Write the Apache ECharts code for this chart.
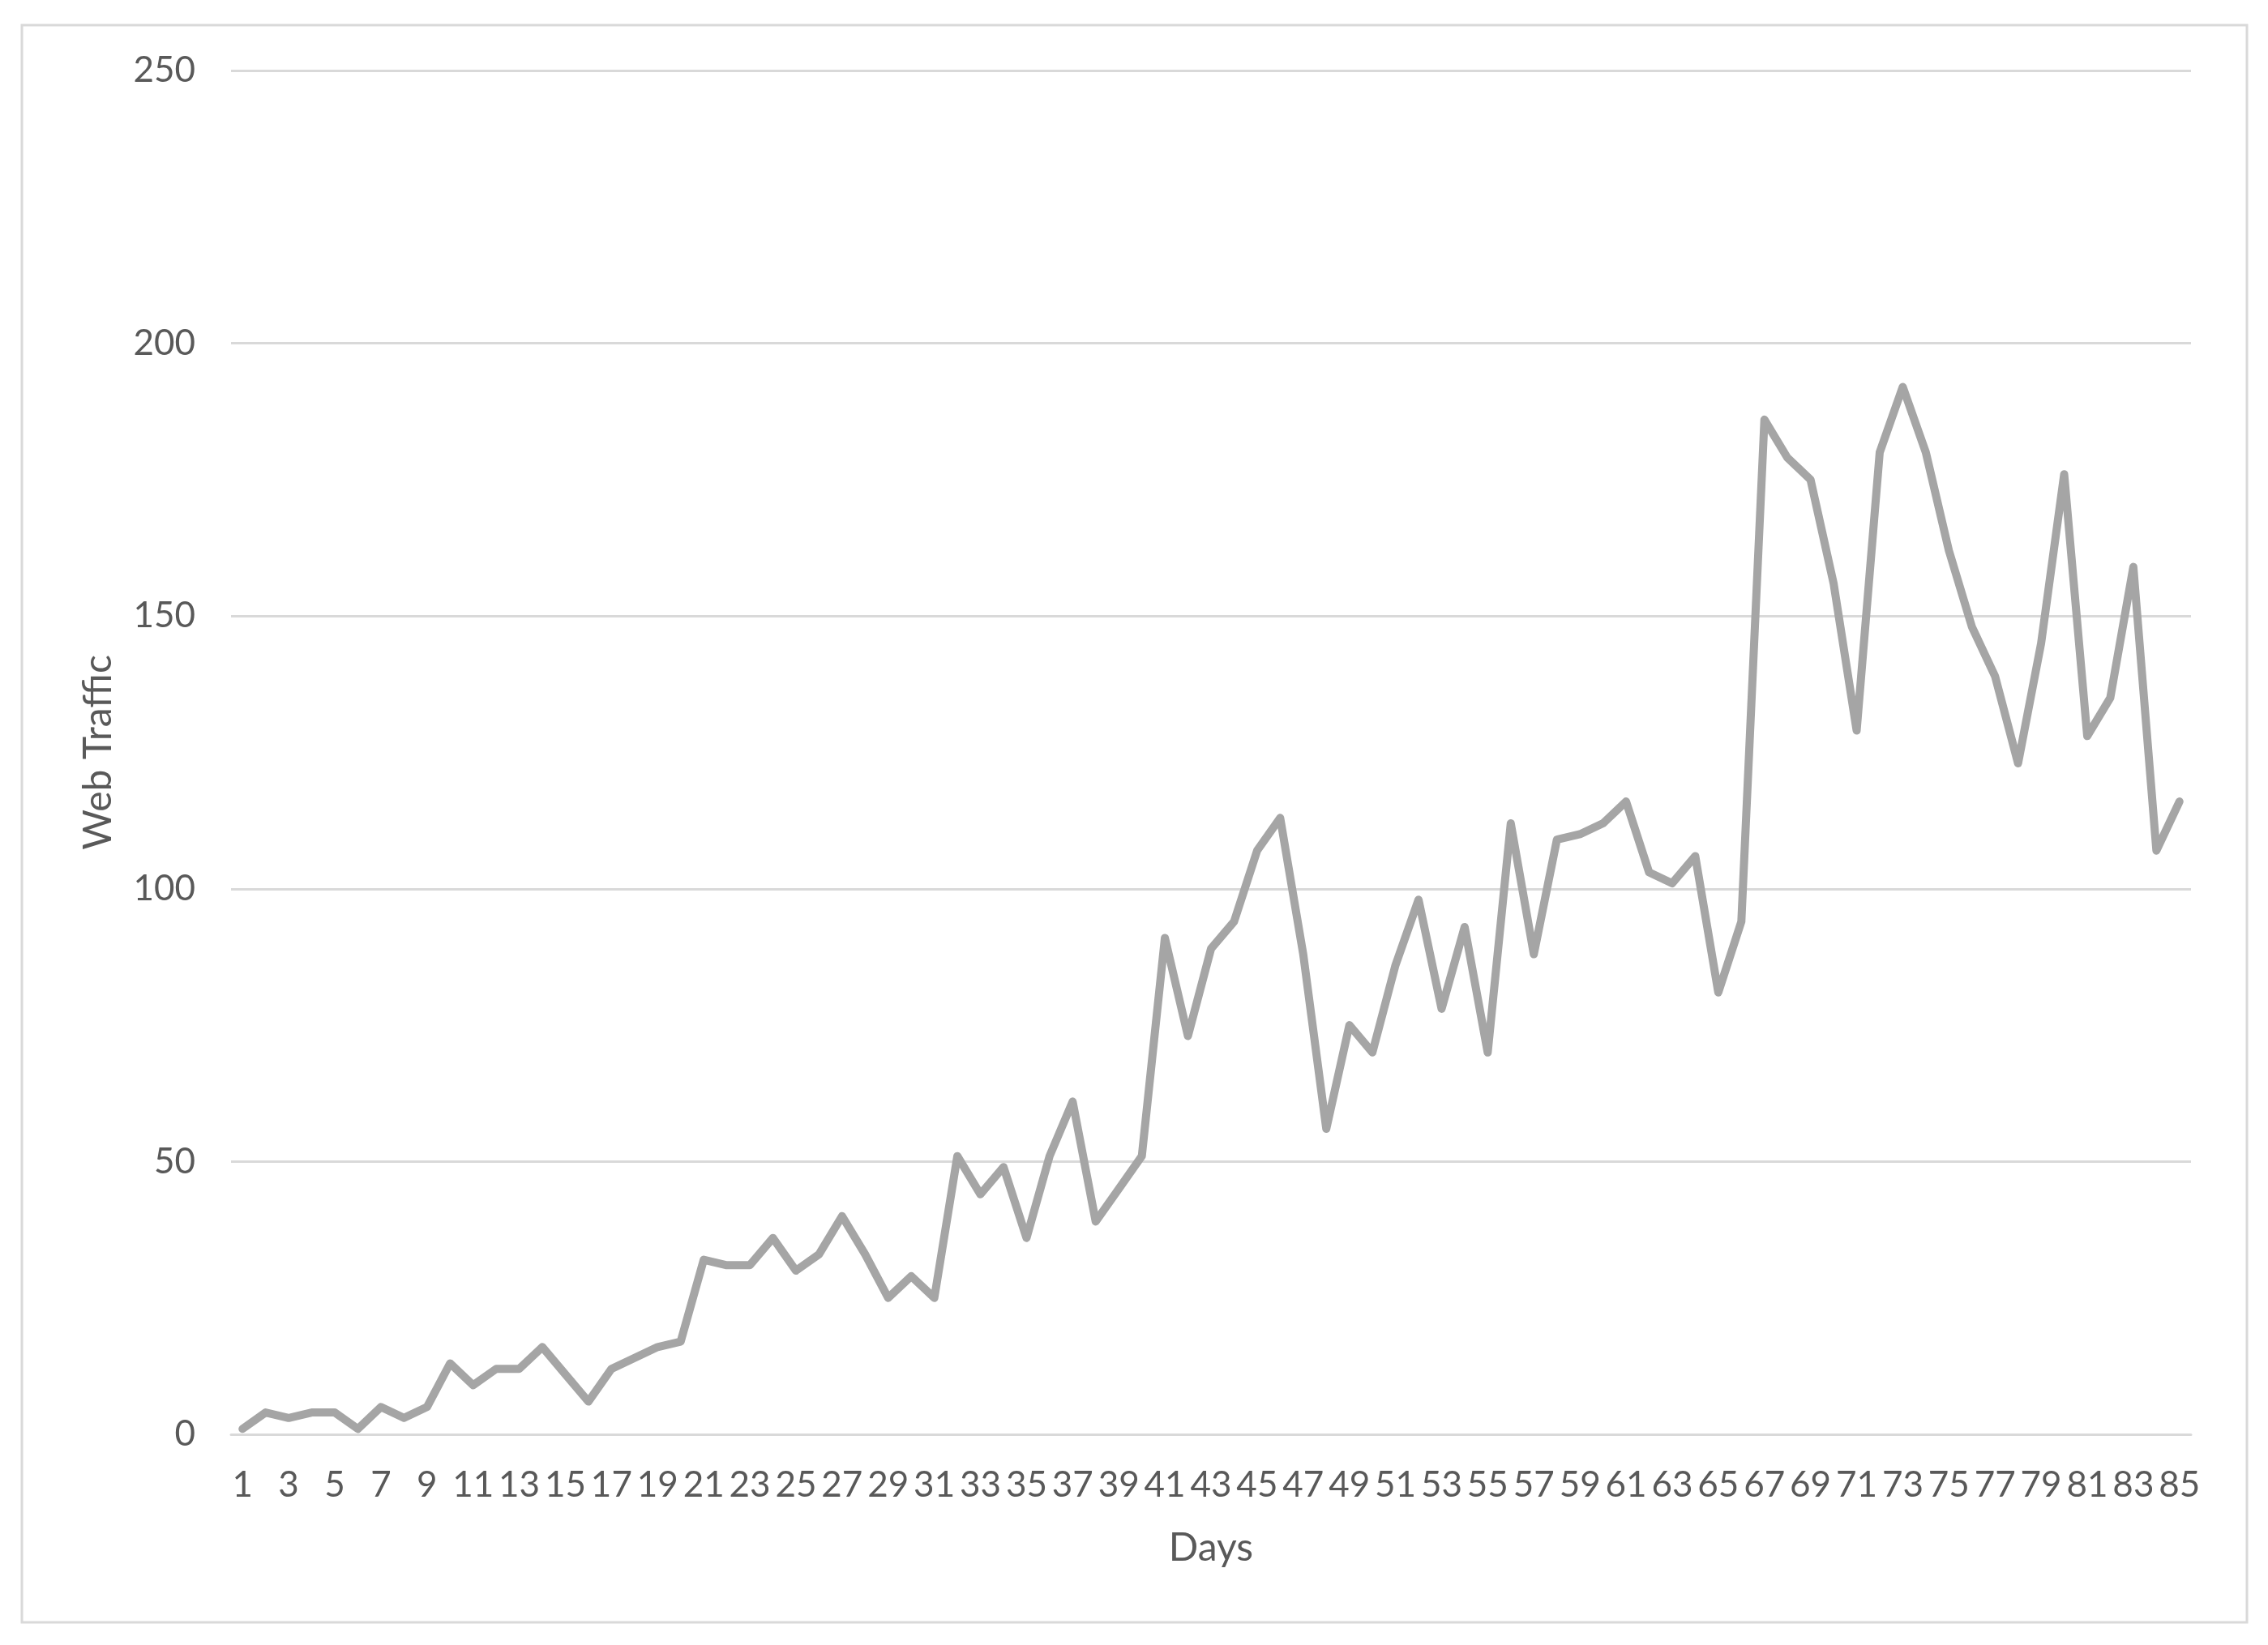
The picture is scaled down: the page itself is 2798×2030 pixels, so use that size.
<!DOCTYPE html>
<html>
<head>
<meta charset="utf-8">
<title>Web Traffic</title>
<script src="https://cdn.jsdelivr.net/npm/echarts@6/dist/echarts.min.js"></script>
<style>
  html, body { margin: 0; padding: 0; background: #ffffff; }
  #chart { width: 2798px; height: 2030px; }
</style>
</head>
<body>
<div id="chart"></div>
<script>
// days on the x axis
var days = [
  '1', '2', '3', '4', '5', '6', '7', '8', '9', '10',
  '11', '12', '13', '14', '15', '16', '17', '18', '19', '20',
  '21', '22', '23', '24', '25', '26', '27', '28', '29', '30',
  '31', '32', '33', '34', '35', '36', '37', '38', '39', '40',
  '41', '42', '43', '44', '45', '46', '47', '48', '49', '50',
  '51', '52', '53', '54', '55', '56', '57', '58', '59', '60',
  '61', '62', '63', '64', '65', '66', '67', '68', '69', '70',
  '71', '72', '73', '74', '75', '76', '77', '78', '79', '80',
  '81', '82', '83', '84', '85'
]

// web traffic per day
var traffic = [
  1, 4, 3, 4, 4, 1, 5, 3, 5, 13,
  9, 12, 12, 16, 11, 6, 12, 14, 16, 17,
  32, 31, 31, 36, 30, 33, 40, 33, 25, 29,
  25, 51, 44, 49, 36, 51, 61, 39, 45, 51,
  91, 73, 89, 94, 107, 113, 88, 56, 75, 70,
  86, 98, 78, 93, 70, 112, 88, 109, 110, 112,
  116, 103, 101, 106, 81, 94, 186, 179, 175, 156,
  129, 180, 192, 180, 162, 148, 139, 123, 145, 176,
  128, 135, 159, 107, 116
]

// y axis range
var yMin = 0
var yMax = 250
var yStep = 50

var textColor = '#595959'
var gridColor = '#D9D9D9'
var fontFamily = 'Lato, "Open Sans", sans-serif'

var chart = echarts.init(document.getElementById('chart'), null, { renderer: 'canvas' })

chart.setOption({
  backgroundColor: '#ffffff',
  animation: false,
  textStyle: {
    fontFamily: fontFamily,
    color: textColor
  },
  // outer chart frame
  graphic: [
    {
      type: 'rect',
      shape: { x: 27, y: 31, width: 2745, height: 1971 },
      style: { fill: 'none', stroke: gridColor, lineWidth: 3 },
      silent: true
    }
  ],
  grid: {
    left: 285,
    right: 95,
    top: 87,
    bottom: 260
  },
  xAxis: {
    type: 'category',
    data: days,
    boundaryGap: true,
    name: 'Days',
    nameLocation: 'middle',
    nameGap: 117,
    nameTextStyle: {
      fontSize: 48,
      color: textColor,
      fontFamily: fontFamily
    },
    axisLine: {
      show: true,
      lineStyle: { color: gridColor, width: 3 }
    },
    axisTick: { show: false },
    axisLabel: {
      interval: 1, // every other day, like the original
      margin: 41,
      fontSize: 44,
      color: textColor,
      fontFamily: fontFamily
    },
    splitLine: { show: false }
  },
  yAxis: {
    type: 'value',
    min: yMin,
    max: yMax,
    interval: yStep,
    name: 'Web Traffic',
    nameLocation: 'middle',
    nameRotate: 90,
    nameGap: 139,
    nameTextStyle: {
      fontSize: 48,
      color: textColor,
      fontFamily: fontFamily
    },
    axisLine: { show: false },
    axisTick: { show: false },
    axisLabel: {
      margin: 44,
      fontSize: 44,
      color: textColor,
      fontFamily: fontFamily
    },
    splitLine: {
      show: true,
      lineStyle: { color: gridColor, width: 3 }
    }
  },
  series: [
    {
      name: 'Web Traffic',
      type: 'line',
      data: traffic,
      showSymbol: false,
      symbol: 'none',
      smooth: false,
      lineStyle: {
        color: '#A5A5A5',
        width: 10,
        cap: 'round',
        join: 'round'
      },
      itemStyle: { color: '#A5A5A5' }
    }
  ]
})
</script>
</body>
</html>
